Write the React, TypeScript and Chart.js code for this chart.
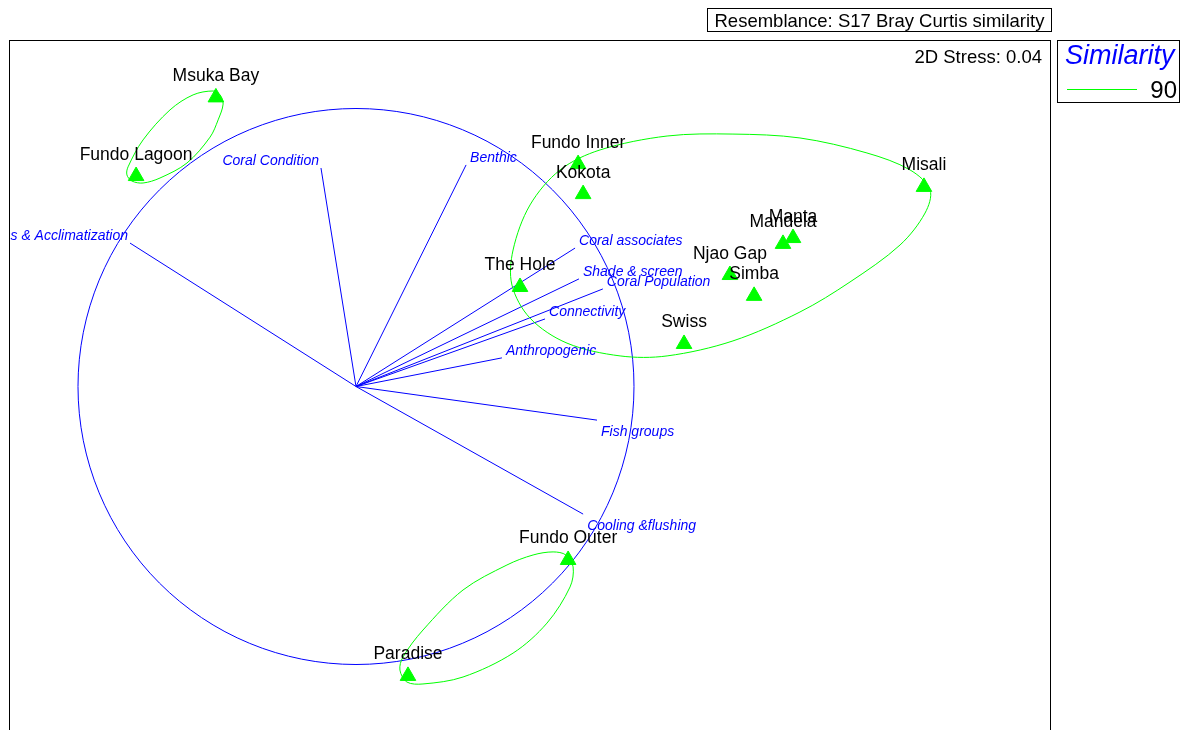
import React, { useEffect, useRef } from 'react';
import { Chart, registerables } from 'chart.js';

Chart.register(...registerables);

// ---- Data (MDS coordinates; correlation circle has radius 1) ----
const sampleNames = [
  'Msuka Bay', 'Fundo Lagoon', 'Fundo Inner', 'Kokota', 'Misali', 'Manta', 'Mandela',
  'Njao Gap', 'Simba', 'The Hole', 'Swiss', 'Fundo Outer', 'Paradise',
];
const sampleX = [-0.504, -0.791, 0.799, 0.817, 2.043, 1.572, 1.536, 1.345, 1.432, 0.59, 1.18, 0.763, 0.187];
const sampleY = [1.04, 0.757, 0.8, 0.692, 0.718, 0.534, 0.513, 0.401, 0.326, 0.358, 0.153, -0.624, -1.041];

const vectorNames = [
  'Stress & Acclimatization', 'Coral Condition', 'Benthic', 'Coral associates', 'Shade & screen',
  'Coral Population', 'Connectivity', 'Anthropogenic', 'Fish groups', 'Cooling &flushing',
];
const vectorX = [-0.813, -0.126, 0.396, 0.788, 0.802, 0.888, 0.68, 0.525, 0.867, 0.817];
const vectorY = [0.516, 0.786, 0.797, 0.498, 0.387, 0.351, 0.243, 0.103, -0.121, -0.459];

// 90% similarity contours
const contourNorthWest = [
  [-0.514, 1.063], [-0.489, 1.049], [-0.478, 1.016], [-0.496, 0.959], [-0.525, 0.897],
  [-0.608, 0.804], [-0.705, 0.75], [-0.766, 0.732], [-0.806, 0.739], [-0.824, 0.761],
  [-0.82, 0.79], [-0.766, 0.887], [-0.669, 0.995], [-0.586, 1.049],
];
const contourEast = [
  [0.878, 0.851], [1.119, 0.901], [1.356, 0.908], [1.597, 0.894], [1.838, 0.84],
  [1.993, 0.779], [2.065, 0.707], [2.047, 0.624], [1.957, 0.509], [1.777, 0.376],
  [1.597, 0.268], [1.356, 0.164], [1.119, 0.11], [0.95, 0.11], [0.759, 0.156],
  [0.626, 0.246], [0.561, 0.365], [0.565, 0.491], [0.626, 0.653], [0.734, 0.779],
];
const contourSouth = [
  [0.709, -0.595], [0.755, -0.606], [0.781, -0.649], [0.77, -0.721], [0.687, -0.851],
  [0.565, -0.959], [0.385, -1.045], [0.241, -1.07], [0.183, -1.063], [0.158, -1.02],
  [0.169, -0.973], [0.241, -0.876], [0.385, -0.732], [0.543, -0.642], [0.637, -0.606],
];
const contours = [contourNorthWest, contourEast, contourSouth];

const similarityLevels = [90];
const stressValue = 0.04;
const resemblanceText = 'Resemblance: S17 Bray Curtis similarity';

const GREEN = '#00ff00';
const BLUE = '#0000ff';
const FONT = '"Liberation Sans", Arial, sans-serif';

function closedLoopData(pts: number[][]) {
  const n = pts.length;
  const seq = [pts[n - 1], ...pts, pts[0], pts[1]];
  return seq.map(([x, y]) => ({ x, y }));
}

const decorPlugin = {
  id: 'mdsDecor',
  beforeDatasetsDraw(chart: any) {
    const { ctx, scales } = chart;
    const xs = scales.x;
    const ys = scales.y;
    const cx = xs.getPixelForValue(0);
    const cy = ys.getPixelForValue(0);
    const r = xs.getPixelForValue(1) - cx;
    ctx.save();
    ctx.strokeStyle = BLUE;
    ctx.lineWidth = 1;
    ctx.beginPath();
    ctx.arc(cx, cy, r, 0, Math.PI * 2);
    ctx.stroke();
    ctx.restore();
  },
  afterDatasetsDraw(chart: any) {
    const { ctx, scales, chartArea } = chart;
    const xs = scales.x;
    const ys = scales.y;
    const { left, top, right, bottom } = chartArea;

    // vector labels (clipped to plot)
    ctx.save();
    ctx.beginPath();
    ctx.rect(left, top, right - left, bottom - top);
    ctx.clip();
    ctx.font = `italic 14px ${FONT}`;
    ctx.fillStyle = BLUE;
    ctx.textBaseline = 'alphabetic';
    vectorNames.forEach((name, i) => {
      const ex = xs.getPixelForValue(vectorX[i]);
      const ey = ys.getPixelForValue(vectorY[i]);
      const rightSide = vectorX[i] >= 0;
      ctx.textAlign = rightSide ? 'left' : 'right';
      const tx = rightSide ? ex + 4 : ex - 2;
      const ty = vectorY[i] >= 0 ? ey - 3 : ey + 15.5;
      ctx.fillText(name, tx, ty);
    });

    // sample labels
    ctx.font = `17.5px ${FONT}`;
    ctx.fillStyle = '#000';
    ctx.textAlign = 'center';
    sampleNames.forEach((name, i) => {
      const px = xs.getPixelForValue(sampleX[i]);
      const py = ys.getPixelForValue(sampleY[i]);
      ctx.fillText(name, px, py - 16.5);
    });
    ctx.restore();

    ctx.save();
    // plot border (open at the bottom edge of the page)
    ctx.strokeStyle = '#000';
    ctx.lineWidth = 1;
    ctx.strokeRect(left + 0.5, top + 0.5, right - left - 1, bottom - top + 10);

    // title box
    ctx.strokeRect(right - 343.5, top - 31.5, 344, 23);
    ctx.font = `18.5px ${FONT}`;
    ctx.fillStyle = '#000';
    ctx.textAlign = 'center';
    ctx.textBaseline = 'alphabetic';
    ctx.fillText(resemblanceText, right - 171.5, top - 13);

    // stress
    ctx.textAlign = 'right';
    ctx.fillText(`2D Stress: ${stressValue.toFixed(2)}`, right - 9, top + 23);

    // legend
    ctx.strokeRect(right + 6.5, top + 0.5, 122, 62);
    ctx.font = `italic 27px ${FONT}`;
    ctx.fillStyle = BLUE;
    ctx.textAlign = 'left';
    ctx.fillText('Similarity', right + 14, top + 24);
    similarityLevels.forEach((lvl, i) => {
      const ly = top + 49.5 + i * 26;
      ctx.strokeStyle = GREEN;
      ctx.beginPath();
      ctx.moveTo(right + 16, ly);
      ctx.lineTo(right + 86, ly);
      ctx.stroke();
      ctx.font = `24px ${FONT}`;
      ctx.fillStyle = '#000';
      ctx.textAlign = 'right';
      ctx.fillText(String(lvl), right + 126, ly + 8);
    });
    ctx.restore();
  },
};

export default function App() {
  const canvasRef = useRef<HTMLCanvasElement | null>(null);

  useEffect(() => {
    const canvas = canvasRef.current;
    if (!canvas) return;

    const datasets: any[] = [];
    datasets.push({
      label: 'Samples',
      data: sampleX.map((x, i) => ({ x, y: sampleY[i] })),
      showLine: false,
      pointStyle: 'triangle',
      pointRadius: 9,
      pointHoverRadius: 9,
      pointBackgroundColor: GREEN,
      pointBorderColor: GREEN,
      pointBorderWidth: 1,
      order: 0,
    });
    contours.forEach((pts, ci) => {
      const data = closedLoopData(pts);
      const last = data.length - 1;
      datasets.push({
        label: `Contour ${ci}`,
        data,
        showLine: true,
        tension: 0.33,
        borderColor: GREEN,
        borderWidth: 1,
        pointRadius: 0,
        pointHoverRadius: 0,
        fill: false,
        segment: {
          borderColor: (c: any) =>
            c.p0DataIndex === 0 || c.p1DataIndex === last ? 'rgba(0,0,0,0)' : GREEN,
        },
        order: 1,
      });
    });
    vectorNames.forEach((name, i) => {
      datasets.push({
        label: name,
        data: [
          { x: 0, y: 0 },
          { x: vectorX[i], y: vectorY[i] },
        ],
        showLine: true,
        borderColor: BLUE,
        borderWidth: 1,
        pointRadius: 0,
        pointHoverRadius: 0,
        order: 2,
      });
    });

    const chart = new Chart(canvas, {
      type: 'scatter',
      data: { datasets },
      options: {
        responsive: false,
        animation: false,
        events: [],
        layout: { autoPadding: false, padding: { left: 9, top: 40, right: 133, bottom: 0 } },
        plugins: { legend: { display: false }, tooltip: { enabled: false } },
        scales: {
          x: { type: 'linear', min: -1.2482, max: 2.5, display: false },
          y: { type: 'linear', min: -1.2356, max: 1.2464, display: false },
        },
      },
      plugins: [decorPlugin],
    });
    return () => chart.destroy();
  }, []);

  return (
    <div style={{ position: 'fixed', left: 0, top: 0, width: 1184, height: 730 }}>
      <canvas ref={canvasRef} width={1184} height={730} style={{ display: 'block' }} />
    </div>
  );
}
